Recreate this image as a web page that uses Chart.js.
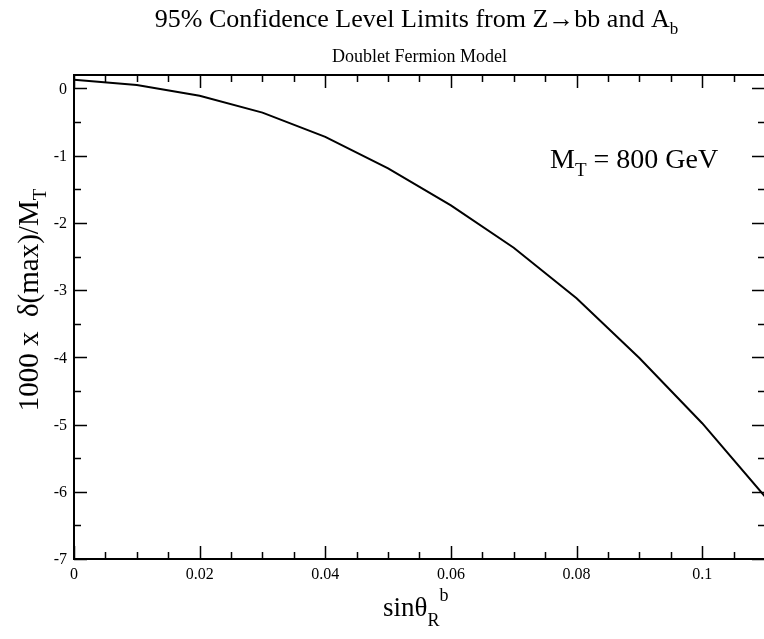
<!DOCTYPE html>
<html>
<head>
<meta charset="utf-8">
<script src="https://cdn.jsdelivr.net/npm/chart.js@4.4.0/dist/chart.umd.min.js"></script>
<style>
  html, body { margin: 0; padding: 0; background: #fff; overflow: hidden; }
  #wrap { width: 764px; height: 639px; overflow: hidden; }
  canvas { display: block; }
</style>
</head>
<body>
<div id="wrap"><canvas id="chart" width="766" height="639"></canvas></div>
<script>
// data
const sinTheta = [0, 0.01, 0.02, 0.03, 0.04, 0.05, 0.06, 0.07, 0.08, 0.09, 0.10, 0.11];
const deltaMax = [0.13, 0.05, -0.11, -0.36, -0.72, -1.19, -1.74, -2.37, -3.12, -4.01, -4.98, -6.07];

// axes
const xMajor = [0, 0.02, 0.04, 0.06, 0.08, 0.1];
const xLabels = ['0', '0.02', '0.04', '0.06', '0.08', '0.1'];
const yMajor = [0, -1, -2, -3, -4, -5, -6, -7];
const yLabels = ['0', '-1', '-2', '-3', '-4', '-5', '-6', '-7'];
const xMinorStep = 0.005;
const yMinorStep = 0.5;

const FONT = '"Liberation Serif", "Times New Roman", serif';

// draw a run of text pieces (for sub/superscripts)
function richText(ctx, parts, x, y, align) {
  let total = 0;
  parts.forEach(p => {
    ctx.font = p.size + 'px ' + FONT;
    p.w = ctx.measureText(p.t).width;
    total += p.w + (p.gap || 0);
  });
  let cx = align === 'center' ? x - total / 2 : x;
  parts.forEach(p => {
    ctx.font = p.size + 'px ' + FONT;
    ctx.fillText(p.t, cx, y + (p.dy || 0));
    cx += p.w + (p.gap || 0);
  });
}

const framePlugin = {
  id: 'frame',
  afterDraw(chart) {
    const ctx = chart.ctx;
    const a = chart.chartArea;
    const xs = chart.scales.x, ys = chart.scales.y;
    ctx.save();
    ctx.strokeStyle = '#000';
    ctx.fillStyle = '#000';

    // ticks (inward, all four sides)
    ctx.lineWidth = 1.5;
    ctx.beginPath();
    for (let v = 0; v <= 0.11 + 1e-9; v += xMinorStep) {
      const px = Math.round(xs.getPixelForValue(v)) + 0.5;
      const major = xMajor.some(m => Math.abs(m - v) < 1e-9);
      const len = major ? 13 : 7;
      ctx.moveTo(px, a.bottom); ctx.lineTo(px, a.bottom - len);
      ctx.moveTo(px, a.top); ctx.lineTo(px, a.top + len);
    }
    for (let v = -7; v <= 0.2 + 1e-9; v += yMinorStep) {
      const py = Math.round(ys.getPixelForValue(v)) + 0.5;
      const major = yMajor.some(m => Math.abs(m - v) < 1e-9);
      const len = major ? 13 : 7;
      ctx.moveTo(a.left, py); ctx.lineTo(a.left + len, py);
      ctx.moveTo(a.right, py); ctx.lineTo(a.right - len, py);
    }
    ctx.stroke();

    // frame
    ctx.lineWidth = 2;
    ctx.strokeRect(a.left, a.top, a.right - a.left, a.bottom - a.top);

    // tick labels
    ctx.font = '16px ' + FONT;
    ctx.textAlign = 'center';
    ctx.textBaseline = 'alphabetic';
    xMajor.forEach((v, i) => {
      ctx.fillText(xLabels[i], xs.getPixelForValue(v), a.bottom + 20);
    });
    ctx.textAlign = 'right';
    ctx.textBaseline = 'middle';
    yMajor.forEach((v, i) => {
      ctx.fillText(yLabels[i], a.left - 7, ys.getPixelForValue(v) + 1);
    });

    // titles
    ctx.textAlign = 'left';
    ctx.textBaseline = 'alphabetic';
    const cx = (a.left + a.right) / 2;
    richText(ctx, [
      { t: '95% Confidence Level Limits from Z\u2192bb and A', size: 26 },
      { t: 'b', size: 17, dy: 7 }
    ], cx - 3, 27, 'center');
    richText(ctx, [{ t: 'Doublet Fermion Model', size: 18 }], cx, 62, 'center');

    // x axis title
    richText(ctx, [
      { t: 'sin\u03b8', size: 27 },
      { t: 'R', size: 18, dy: 10 },
      { t: 'b', size: 18, dy: -15 }
    ], 383, 616, 'left');

    // annotation
    richText(ctx, [
      { t: 'M', size: 28 },
      { t: 'T', size: 19, dy: 8 },
      { t: ' = 800 GeV', size: 28 }
    ], 550, 168, 'left');

    // y axis title (rotated)
    ctx.save();
    ctx.translate(38, 300);
    ctx.rotate(-Math.PI / 2);
    richText(ctx, [
      { t: '1000 x  \u03b4(max)/M', size: 29 },
      { t: 'T', size: 19, dy: 8 }
    ], 0, 0, 'center');
    ctx.restore();

    ctx.restore();
  }
};

new Chart(document.getElementById('chart'), {
  type: 'scatter',
  data: {
    datasets: [{
      data: sinTheta.map((x, i) => ({ x: x, y: deltaMax[i] })),
      showLine: true,
      borderColor: '#000',
      borderWidth: 2,
      pointRadius: 0,
      tension: 0,
      fill: false
    }]
  },
  options: {
    responsive: false,
    animation: false,
    devicePixelRatio: 1,
    layout: { padding: { left: 74, top: 75, right: 1, bottom: 80 } },
    plugins: { legend: { display: false }, tooltip: { enabled: false } },
    scales: {
      x: { type: 'linear', min: 0, max: 0.11, display: false },
      y: { type: 'linear', min: -7, max: 0.2, display: false }
    }
  },
  plugins: [framePlugin]
});
</script>
</body>
</html>
